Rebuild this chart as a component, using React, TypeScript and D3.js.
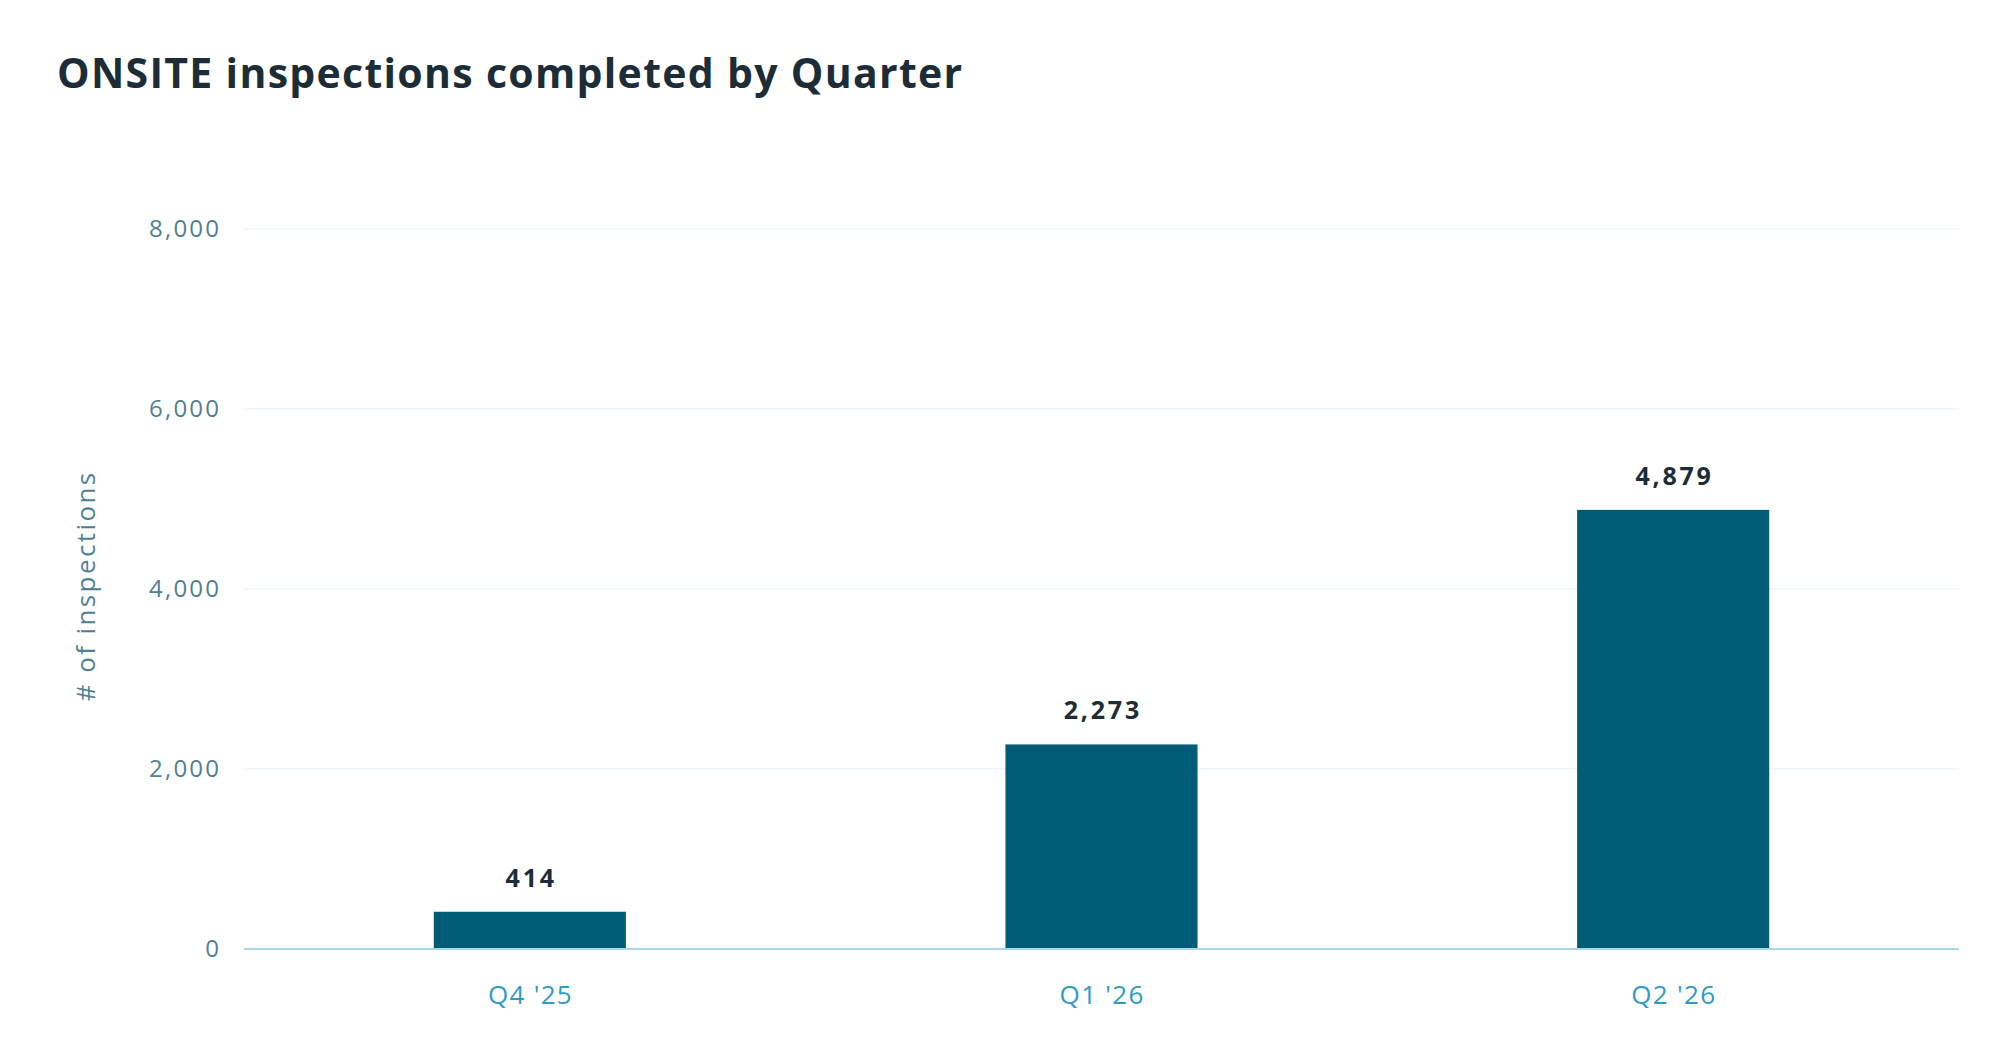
import React, { useEffect, useRef } from "react";
import * as d3 from "d3";

const categories = ["Q4 '25", "Q1 '26", "Q2 '26"];
const values = [414, 2273, 4879];
const yTicks = [0, 2000, 4000, 6000, 8000];
const title = "ONSITE inspections completed by Quarter";
const yTitle = "# of inspections";

const W = 2016;
const H = 1050;
const FONT = "'Open Sans', 'Noto Sans', sans-serif";

export default function App() {
  const ref = useRef<SVGSVGElement | null>(null);

  useEffect(() => {
    const svg = d3.select(ref.current);
    svg.selectAll("*").remove();

    const left = 244, right = 1959, top = 229, bottom = 949;
    const x = d3.scaleBand<string>().domain(categories).range([left, right]).paddingInner(0.664).paddingOuter(0.332);
    const y = d3.scaleLinear().domain([0, 8000]).range([bottom, top]);
    const fmt = d3.format(",");

    svg.append("text")
      .attr("x", 57).attr("y", 88)
      .attr("font-family", FONT).attr("font-weight", 700).attr("font-size", 41)
      .attr("letter-spacing", 1.3)
      .attr("fill", "#1c2d37")
      .text(title);

    // grid
    svg.append("g").selectAll("line").data(yTicks.filter(d => d !== 0)).join("line")
      .attr("x1", left).attr("x2", right)
      .attr("y1", d => y(d)).attr("y2", d => y(d))
      .attr("stroke", "#edf5f8").attr("stroke-width", 1.5);

    // y tick labels
    const tls = 2.2;
    svg.append("g").selectAll("text").data(yTicks).join("text")
      .attr("x", 219 + tls).attr("y", d => y(d)).attr("dy", "0.35em")
      .attr("text-anchor", "end")
      .attr("font-family", FONT).attr("font-size", 24)
      .attr("letter-spacing", tls)
      .attr("fill", "#4f8194")
      .text(d => fmt(d));

    // axis title
    const als = 2.4;
    svg.append("text")
      .attr("transform", `translate(95, ${(top + bottom) / 2 - 2}) rotate(-90)`)
      .attr("text-anchor", "middle")
      .attr("dx", als / 2)
      .attr("font-family", FONT).attr("font-size", 26)
      .attr("letter-spacing", als)
      .attr("fill", "#4f8194")
      .text(yTitle);

    // bars
    svg.append("g").selectAll("rect").data(values).join("rect")
      .attr("x", (_, i) => x(categories[i])!)
      .attr("width", x.bandwidth())
      .attr("y", d => y(d))
      .attr("height", d => bottom - y(d))
      .attr("fill", "#005b76");

    // baseline
    svg.append("line")
      .attr("x1", left).attr("x2", right)
      .attr("y1", bottom).attr("y2", bottom)
      .attr("stroke", "#a8d8e4").attr("stroke-width", 2);

    // value labels
    const vls = 2.8;
    svg.append("g").selectAll("text").data(values).join("text")
      .attr("x", (_, i) => x(categories[i])! + x.bandwidth() / 2 + vls / 2)
      .attr("y", d => y(d) - 25)
      .attr("text-anchor", "middle")
      .attr("font-family", FONT).attr("font-weight", 700).attr("font-size", 25)
      .attr("letter-spacing", vls)
      .attr("fill", "#1c2d37")
      .text(d => fmt(d));

    // category labels
    const cls = 1.3;
    svg.append("g").selectAll("text").data(categories).join("text")
      .attr("x", d => x(d)! + x.bandwidth() / 2 + cls / 2)
      .attr("y", 1004)
      .attr("text-anchor", "middle")
      .attr("font-family", FONT).attr("font-size", 26)
      .attr("letter-spacing", cls)
      .attr("fill", "#2f9bc5")
      .text(d => d);
  }, []);

  return (
    <svg ref={ref} width={W} height={H}
      style={{ position: "absolute", left: 0, top: 0, background: "#ffffff" }} />
  );
}
